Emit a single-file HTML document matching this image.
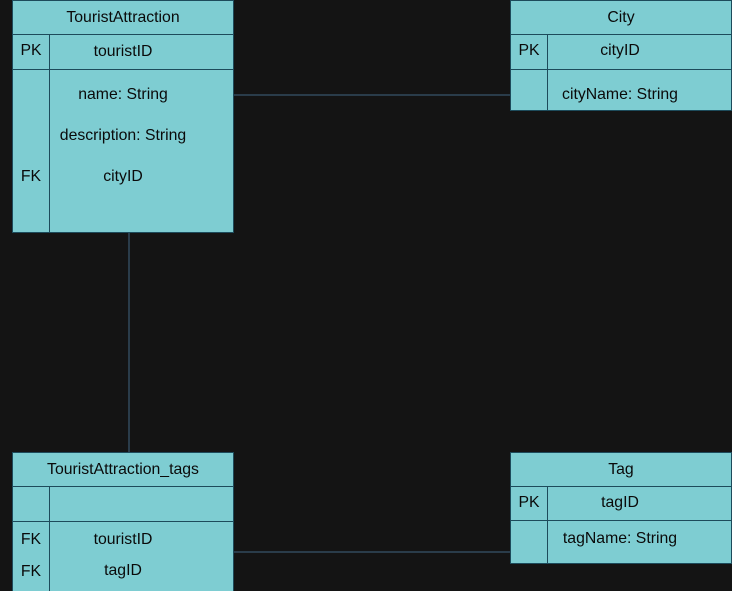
<!DOCTYPE html>
<html><head><style>
html,body{margin:0;padding:0;background:#141414;}
svg{display:block;}
text{font-family:"Liberation Sans",Arial,sans-serif;font-size:15.8px;fill:#0a0a0a;}
</style></head><body>
<svg width="732" height="591" viewBox="0 0 732 591">
<rect width="732" height="591" fill="#141414"/>
<g stroke="#2a3c4a" stroke-width="2" fill="none">
<line x1="233" y1="95" x2="510" y2="95"/>
<line x1="129" y1="232" x2="129" y2="452"/>
<line x1="233" y1="552" x2="510" y2="552"/>
</g>
<g fill="#7ecdd2" stroke="#1d4b5b" stroke-width="1">
<rect x="12.5" y="0.5" width="221" height="232"/>
<rect x="510.5" y="0.5" width="221" height="110"/>
<rect x="12.5" y="452.5" width="221" height="140"/>
<rect x="510.5" y="452.5" width="221" height="111"/>
</g>
<g stroke="#1d4b5b" stroke-width="1">
<line x1="12" y1="34.5" x2="233" y2="34.5"/><line x1="12" y1="69.5" x2="233" y2="69.5"/><line x1="49.5" y1="34" x2="49.5" y2="232"/>
<line x1="510" y1="34.5" x2="731" y2="34.5"/><line x1="510" y1="69.5" x2="731" y2="69.5"/><line x1="547.5" y1="34" x2="547.5" y2="110"/>
<line x1="12" y1="486.5" x2="233" y2="486.5"/><line x1="12" y1="521.5" x2="233" y2="521.5"/><line x1="49.5" y1="486" x2="49.5" y2="591"/>
<line x1="510" y1="486.5" x2="731" y2="486.5"/><line x1="510" y1="520.5" x2="731" y2="520.5"/><line x1="547.5" y1="486" x2="547.5" y2="563"/>
</g>
<g text-anchor="middle">
<text x="123" y="22">TouristAttraction</text>
<text x="31" y="55">PK</text><text x="123" y="56">touristID</text>
<text x="123" y="99">name: String</text>
<text x="123" y="140">description: String</text>
<text x="31" y="181">FK</text><text x="123" y="181">cityID</text>
<text x="621" y="22">City</text>
<text x="529" y="55">PK</text><text x="620" y="55">cityID</text>
<text x="620" y="99">cityName: String</text>
<text x="123" y="474">TouristAttraction_tags</text>
<text x="31" y="544">FK</text><text x="123" y="544">touristID</text>
<text x="31" y="576">FK</text><text x="123" y="575">tagID</text>
<text x="621" y="474">Tag</text>
<text x="529" y="507">PK</text><text x="620" y="507">tagID</text>
<text x="620" y="543">tagName: String</text>
</g>
</svg>
</body></html>
